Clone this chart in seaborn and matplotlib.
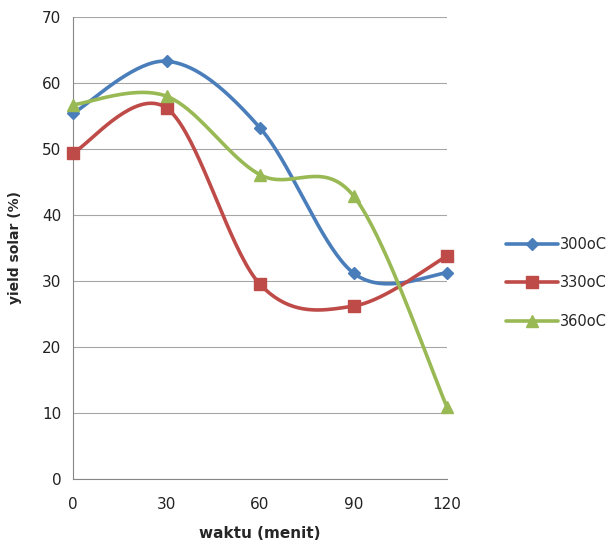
import numpy as np
import pandas as pd
import matplotlib
matplotlib.use("Agg")
import matplotlib.pyplot as plt
import seaborn as sns

waktu = [0, 30, 60, 90, 120]
s300 = [55.4, 63.3, 53.2, 31.2, 31.2]
s330 = [49.4, 56.2, 29.5, 26.2, 33.8]
s360 = [56.7, 58.0, 46.1, 42.9, 10.9]
labels = ["300oC", "330oC", "360oC"]
colors = ["#4A7EBB", "#BE4B48", "#98B954"]
markers = ["D", "s", "^"]
msizes = [6, 8, 8]

def smooth(x, y, n=40):
    x = np.asarray(x, float); y = np.asarray(y, float)
    P = np.column_stack([x, y])
    out = []
    for i in range(len(P) - 1):
        p0 = P[i - 1] if i > 0 else P[i]
        p1 = P[i]; p2 = P[i + 1]
        p3 = P[i + 2] if i + 2 < len(P) else P[i + 1]
        c1 = p1 + (p2 - p0) / 6
        c2 = p2 - (p3 - p1) / 6
        t = np.linspace(0, 1, n)[:, None]
        seg = (1 - t) ** 3 * p1 + 3 * (1 - t) ** 2 * t * c1 + 3 * (1 - t) * t ** 2 * c2 + t ** 3 * p2
        out.append(seg if i == 0 else seg[1:])
    s = np.vstack(out)
    return s[:, 0], s[:, 1]

sns.set_style("white")
plt.rcParams['font.family'] = ['DejaVu Sans']
fig = plt.figure(figsize=(6.09, 5.45), dpi=100)
ax = fig.add_axes([73/609, 1 - 479/545, (447-73)/609, (479-17)/545])

handles = []
for ys, lab, c, m, ms in zip([s300, s330, s360], labels, colors, markers, msizes):
    sx, sy = smooth(waktu, ys)
    df = pd.DataFrame({"x": sx, "y": sy})
    sns.lineplot(data=df, x="x", y="y", sort=False, color=c, lw=2.6, ax=ax, legend=False)
    ax.plot(waktu, ys, linestyle="none", marker=m, markersize=ms, color=c, zorder=5, clip_on=False)
    h, = ax.plot([], [], color=c, lw=2.6, marker=m, markersize=ms, label=lab)
    handles.append(h)

ax.set_xlim(0, 120)
ax.set_ylim(0, 70)
ax.set_xticks(waktu)
ax.set_yticks(range(0, 71, 10))
ax.yaxis.grid(True, color="#A6A6A6", lw=0.8)
ax.set_axisbelow(True)
for s in ["top", "right"]:
    ax.spines[s].set_visible(False)
for s in ["left", "bottom"]:
    ax.spines[s].set_color("#868686")
    ax.spines[s].set_linewidth(0.8)
ax.tick_params(axis="both", direction="out", length=5, color="#868686", labelsize=11, labelcolor="#222222")
ax.tick_params(axis="x", pad=8)
ax.set_xlabel("waktu (menit)", fontsize=11, fontweight="bold", labelpad=10)
ax.set_ylabel("yield solar (%)", fontsize=10, fontweight="bold", labelpad=14)
fig.legend(handles=handles, labels=labels, loc="center left", bbox_to_anchor=(494/609, 1 - 283/545),
           frameon=False, fontsize=10.5, handlelength=3.6, labelspacing=1.6, handletextpad=0.1,
           borderpad=0.3)
fig.savefig("out.png", dpi=100)
